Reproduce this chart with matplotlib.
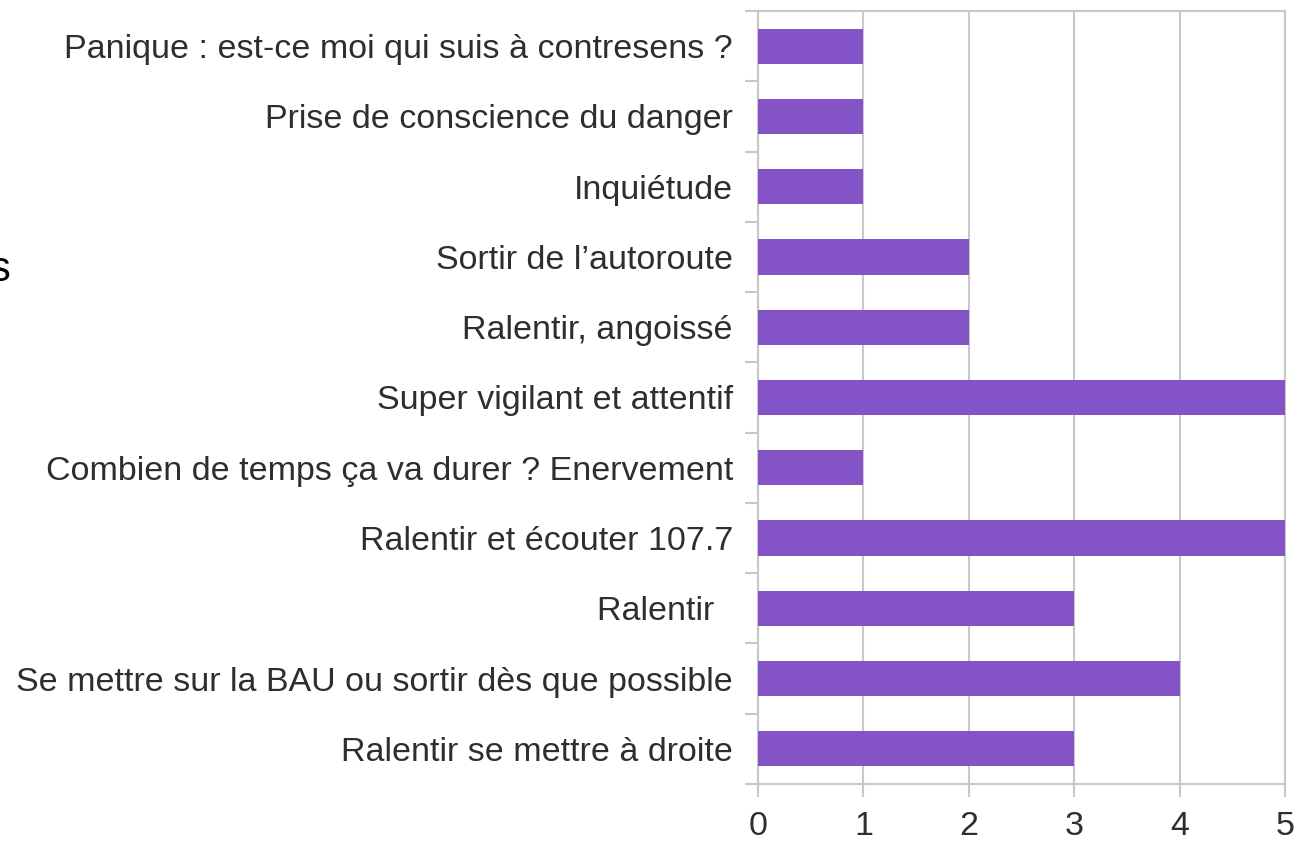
import matplotlib
matplotlib.use('Agg')
import matplotlib.pyplot as plt
import numpy as np

# Réponses (de haut en bas) et nombre de citations
reponses = [
    "Panique : est-ce moi qui suis à contresens ?",
    "Prise de conscience du danger",
    "Inquiétude",
    "Sortir de l’autoroute",
    "Ralentir, angoissé",
    "Super vigilant et attentif",
    "Combien de temps ça va durer ? Enervement",
    "Ralentir et écouter 107.7",
    "Ralentir  ",
    "Se mettre sur la BAU ou sortir dès que possible",
    "Ralentir se mettre à droite",
]
nombres = [1, 1, 1, 2, 2, 5, 1, 5, 3, 4, 3]
graduations = [0, 1, 2, 3, 4, 5]

couleur_barre = '#8454c6'
gris = '#c8c8c8'
texte = '#2e2e2e'

plt.rcParams['font.family'] = ['Liberation Sans', 'DejaVu Sans']

fig = plt.figure(figsize=(12.97, 8.42), dpi=100)
ax = fig.add_axes([758 / 1297, 1 - 784 / 842, (1285 - 758) / 1297, (784 - 11) / 842])

pos = np.arange(len(reponses))
ax.barh(pos, nombres, height=0.5, color=couleur_barre, zorder=3)

ax.set_xlim(0, 5)
ax.set_ylim(len(reponses) - 0.5, -0.5)

# Axe Y : libellés au centre, petits traits aux limites des catégories
ax.set_yticks(pos)
ax.set_yticklabels(reponses, fontsize=24.5, color=texte)
ax.tick_params(axis='y', which='major', length=0, pad=18)
ax.set_yticks(np.arange(-0.5, len(reponses), 1), minor=True)
ax.tick_params(axis='y', which='minor', length=9.5, width=1.5, color=gris, direction='out')

# Axe X
ax.set_xticks(graduations)
ax.set_xticklabels([str(g) for g in graduations], fontsize=24.5, color=texte)
ax.tick_params(axis='x', length=9.5, width=1.5, color=gris, direction='out', pad=10)

ax.grid(True, axis='x', color=gris, linewidth=1.5, zorder=0)

for cote in ['left', 'bottom', 'top', 'right']:
    ax.spines[cote].set_color(gris)
    ax.spines[cote].set_linewidth(1.5)

# Fragment de titre coupé au bord gauche (comme dans l'original)
fig.text(-0.008, 1 - 270 / 842, "s", fontsize=30, color='black', va='center', ha='left')

plt.savefig('out.png', dpi=100)
plt.close()
